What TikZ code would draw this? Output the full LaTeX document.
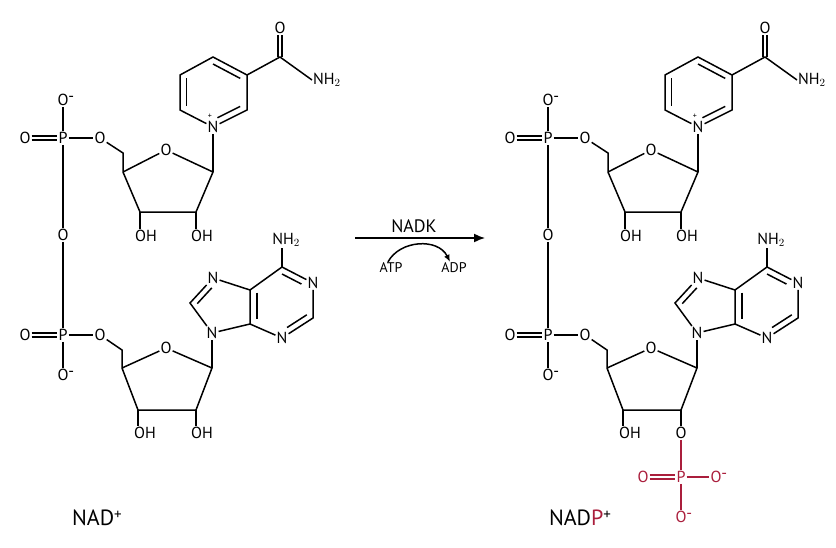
\documentclass[tikz,border=0pt]{standalone}
\usepackage{fontspec}
\setmainfont{PT Sans}
\usetikzlibrary{calc,arrows.meta}
\definecolor{nadpred}{RGB}{170,30,60}
\begin{document}
\begin{tikzpicture}[x=1pt,y=-1pt,
    atom/.style={inner sep=1pt,font=\fontsize{16}{16}\selectfont},
    bond/.style={line width=1.5pt},
    molname/.style={font=\fontsize{22}{22}\selectfont}]
\useasboundingbox (0,0) rectangle (836,547);
\foreach \s/\dx in {L/0,R/485} {
  \begin{scope}[xshift=\dx]
    % phosphate bridge
    \node[atom] (\s P1) at (63,138) {P};
    \node[atom] (\s O1) at (25,138) {O};
    \node[atom] (\s Om1) at (63,100) {O\rlap{\raisebox{0.5ex}{-}}};
    \node[atom] (\s O5a) at (100,138) {O};
    \node[atom] (\s Ob) at (63,235) {O};
    \node[atom] (\s P2) at (63,335) {P};
    \node[atom] (\s O2) at (25,335) {O};
    \node[atom] (\s Om2) at (63,375) {O\rlap{\raisebox{0.5ex}{-}}};
    \node[atom] (\s O5b) at (100,335) {O};
    \draw[bond] (\s P1) -- (\s Om1);
    \draw[bond] (\s P1) -- (\s O5a);
    \draw[bond] (\s P1) -- (\s Ob);
    \draw[bond] (\s Ob) -- (\s P2);
    \draw[bond] (\s P2) -- (\s Om2);
    \draw[bond] (\s P2) -- (\s O5b);
    \draw[bond] ([yshift=-2]\s O1.east) -- ([yshift=-2]\s P1.west);
    \draw[bond] ([yshift=2]\s O1.east) -- ([yshift=2]\s P1.west);
    \draw[bond] ([yshift=-2]\s O2.east) -- ([yshift=-2]\s P2.west);
    \draw[bond] ([yshift=2]\s O2.east) -- ([yshift=2]\s P2.west);
    % upper ribose
    \coordinate (\s C5a) at (123,153);
    \coordinate (\s C4a) at (123,172);
    \node[atom] (\s Ora) at (166,150) {O};
    \coordinate (\s C1a) at (213,172);
    \coordinate (\s C2a) at (196,212);
    \coordinate (\s C3a) at (140,212);
    \node[atom] (\s OH3a) at (146,236) {OH};
    \node[atom] (\s OH2a) at (202,236) {OH};
    \draw[bond] (\s O5a) -- (\s C5a) -- (\s C4a) -- (\s Ora) -- (\s C1a)
      -- (\s C2a) -- (\s C3a) -- (\s C4a);
    \draw[bond] (\s C3a) -- (\s OH3a.north -| \s C3a);
    \draw[bond] (\s C2a) -- (\s OH2a.north -| \s C2a);
    % nicotinamide
    \node[atom] (\s Np) at (213,127) {N};
    \node[inner sep=0pt,font=\fontsize{8}{8}\selectfont] (\s Npl) at (210,116) {+};
    \coordinate (\s Y2) at (247,110);
    \coordinate (\s Y3) at (247,75);
    \coordinate (\s Y4) at (213,57);
    \coordinate (\s Y5) at (180,75);
    \coordinate (\s Y6) at (180,110);
    \coordinate (\s yc) at (213,92);
    \draw[bond] (\s Np) -- (\s Y2) -- (\s Y3) -- (\s Y4) -- (\s Y5) -- (\s Y6) -- (\s Np);
    \draw[bond] (\s Np) -- (\s C1a);
    \draw[bond,shorten <=5pt] ($(\s Np)!0.2!(\s yc)$) -- ($(\s Y2)!0.2!(\s yc)$);
    \draw[bond] ($(\s Y3)!0.2!(\s yc)$) -- ($(\s Y4)!0.2!(\s yc)$);
    \draw[bond] ($(\s Y5)!0.2!(\s yc)$) -- ($(\s Y6)!0.2!(\s yc)$);
    \coordinate (\s Cc) at (280,57);
    \node[atom] (\s Oc) at (280,28) {O};
    \node[atom,anchor=west] (\s Nam) at (312,80) {NH$_2$};
    \draw[bond] (\s Y3) -- (\s Cc) -- (\s Nam.west);
    \draw[bond] ([xshift=-2]\s Cc) -- ([xshift=-2]\s Oc.south);
    \draw[bond] ([xshift=2]\s Cc) -- ([xshift=2]\s Oc.south);
    % lower ribose
    \coordinate (\s C5b) at (122,350);
    \coordinate (\s C4b) at (122,368);
    \node[atom] (\s Orb) at (166,348) {O};
    \coordinate (\s C1b) at (212,368);
    \coordinate (\s C2b) at (196,410);
    \coordinate (\s C3b) at (138,410);
    \node[atom] (\s OH3b) at (145,433) {OH};
    \draw[bond] (\s O5b) -- (\s C5b) -- (\s C4b) -- (\s Orb) -- (\s C1b)
      -- (\s C2b) -- (\s C3b) -- (\s C4b);
    \draw[bond] (\s C3b) -- (\s OH3b.north -| \s C3b);
    % adenine
    \node[atom] (\s N9) at (212,333) {N};
    \coordinate (\s A8) at (190,303);
    \node[atom] (\s N7) at (213,278) {N};
    \coordinate (\s A5) at (250,290);
    \coordinate (\s A4) at (250,324);
    \coordinate (\s A6) at (282,267);
    \node[atom] (\s N1) at (313,283) {N};
    \coordinate (\s A2) at (313,318);
    \node[atom] (\s N3) at (282,338) {N};
    \node[atom] (\s Nad) at (286,240) {NH$_2$};
    \coordinate (\s fc) at (223,306);
    \coordinate (\s sc) at (282,302);
    \draw[bond] (\s C1b) -- (\s N9);
    \draw[bond] (\s N9) -- (\s A8) -- (\s N7) -- (\s A5) -- (\s A4) -- (\s N9);
    \draw[bond] (\s A5) -- (\s A6) -- (\s N1) -- (\s A2) -- (\s N3) -- (\s A4);
    \draw[bond] (\s A6) -- (\s Nad.south -| \s A6);
    \draw[bond,shorten >=5pt] ($(\s A8)!0.22!(\s fc)$) -- ($(\s N7)!0.22!(\s fc)$);
    \draw[bond] ($(\s A5)!0.22!(\s sc)$) -- ($(\s A4)!0.22!(\s sc)$);
    \draw[bond,shorten >=6pt] ($(\s A6)!0.2!(\s sc)$) -- ($(\s N1)!0.2!(\s sc)$);
    \draw[bond,shorten <=6pt] ($(\s N3)!0.2!(\s sc)$) -- ($(\s A2)!0.2!(\s sc)$);
  \end{scope}
}
% 2' position
\node[atom] (LOH2b) at (202,433) {OH};
\draw[bond] (LC2b) -- (LOH2b.north -| LC2b);
\node[atom] (RO2b) at (681,433) {O};
\draw[bond] (RC2b) -- (RO2b.north -| RC2b);
\begin{scope}[nadpred]
  \node[atom] (RPr) at (681,477) {P};
  \node[atom] (ROr1) at (643,477) {O};
  \node[atom] (ROr2) at (716,477) {O\rlap{\raisebox{0.5ex}{-}}};
  \node[atom] (ROr3) at (681,517) {O\rlap{\raisebox{0.5ex}{-}}};
  \draw[bond] (RO2b) -- (RPr);
  \draw[bond] (RPr) -- (ROr2);
  \draw[bond] (RPr) -- (ROr3);
  \draw[bond] ([yshift=-2]ROr1.east) -- ([yshift=-2]RPr.west);
  \draw[bond] ([yshift=2]ROr1.east) -- ([yshift=2]RPr.west);
\end{scope}
% names
\node[molname] (nad) at (97,518) {NAD\raisebox{0.6ex}{\fontsize{15}{15}\selectfont+}};
\node[molname] (nadp) at (580,518) {NAD\textcolor{nadpred}{P}\raisebox{0.6ex}{\fontsize{15}{15}\selectfont+}};
% reaction arrow
\coordinate (a1) at (355,238);
\coordinate (a2) at (485,238);
\draw[bond,-{Latex[length=11pt,width=9pt]}] (a1) -- (a2);
\node[atom,font=\fontsize{18}{18}\selectfont] (nadk) at (414,226) {NADK};
\node[atom,font=\fontsize{14}{14}\selectfont] (atp) at (391,268) {ATP};
\node[atom,font=\fontsize{14}{14}\selectfont] (adp) at (454,268) {ADP};
\draw[bond,-{Latex[length=7pt,width=6pt]}] ([xshift=-3]atp.north) .. controls +(12,-22) and +(-12,-24) .. ([xshift=-4]adp.north);
\end{tikzpicture}
\end{document}
